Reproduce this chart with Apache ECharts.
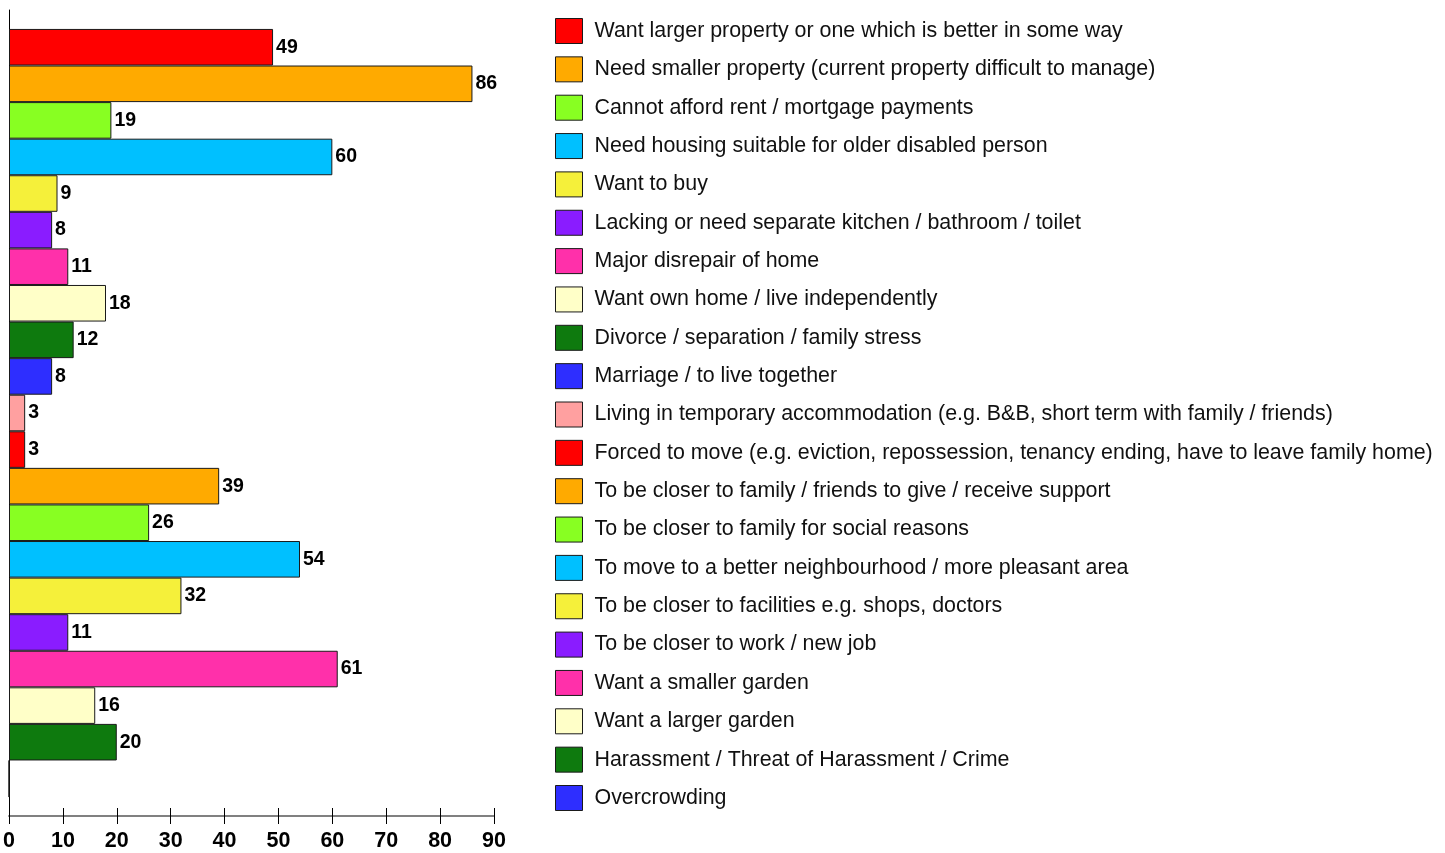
<!DOCTYPE html>
<html>
<head>
<meta charset="utf-8">
<title>Reasons for moving</title>
<script src="https://cdn.jsdelivr.net/npm/echarts@6/dist/echarts.min.js"></script>
<style>
  html, body { margin: 0; padding: 0; background: #ffffff; }
  #chart { width: 1445px; height: 853px; }
</style>
</head>
<body>
<div id="chart"></div>
<script>
// Reasons given for wanting to move (number of households)
const reasons = [
  'Want larger property or one which is better in some way',
  'Need smaller property (current property difficult to manage)',
  'Cannot afford rent / mortgage payments',
  'Need housing suitable for older disabled person',
  'Want to buy',
  'Lacking or need separate kitchen / bathroom / toilet',
  'Major disrepair of home',
  'Want own home / live independently',
  'Divorce / separation / family stress',
  'Marriage / to live together',
  'Living in temporary accommodation (e.g. B&B, short term with family / friends)',
  'Forced to move (e.g. eviction, repossession, tenancy ending, have to leave family home)',
  'To be closer to family / friends to give / receive support',
  'To be closer to family for social reasons',
  'To move to a better neighbourhood / more pleasant area',
  'To be closer to facilities e.g. shops, doctors',
  'To be closer to work / new job',
  'Want a smaller garden',
  'Want a larger garden',
  'Harassment / Threat of Harassment / Crime',
  'Overcrowding'
];

const counts = [49, 86, 19, 60, 9, 8, 11, 18, 12, 8, 3, 3, 39, 26, 54, 32, 11, 61, 16, 20, 0];

const xTicks = [0, 10, 20, 30, 40, 50, 60, 70, 80, 90];

const palette = [
  '#FF0000', '#FFAA00', '#88FF22', '#00C0FF', '#F5F03A', '#8A1CFF', '#FF30AA',
  '#FFFFC8', '#0E7A0E', '#2E2EFF', '#FFA0A0', '#FF0000', '#FFAA00', '#88FF22',
  '#00C0FF', '#F5F03A', '#8A1CFF', '#FF30AA', '#FFFFC8', '#0E7A0E', '#2E2EFF'
];

const font = '"Liberation Sans", Arial, sans-serif';

const series = reasons.map((name, i) => ({
  name: name,
  type: 'bar',
  xAxisIndex: 0,
  barGap: '0%',
  barCategoryGap: '4.7%',
  data: [counts[i]],
  itemStyle: {
    color: palette[i],
    borderColor: '#1a1a1a',
    borderWidth: 1
  },
  label: {
    show: true,
    position: 'right',
    distance: 3,
    color: '#000',
    fontFamily: font,
    fontWeight: 'bold',
    fontSize: 19.5,
    formatter: p => (p.value === 0 ? '' : String(p.value))
  },
  emphasis: { disabled: true }
}));

const chart = echarts.init(document.getElementById('chart'), null, { renderer: 'canvas' });

chart.setOption({
  animation: false,
  backgroundColor: '#ffffff',
  color: palette,
  grid: { left: 9, right: 951, top: 10, bottom: 37, containLabel: false },
  legend: {
    orient: 'vertical',
    left: 550,
    top: 13,
    itemWidth: 27,
    itemHeight: 25,
    itemGap: 12.35,
    icon: 'rect',
    selectedMode: false,
    data: reasons,
    itemStyle: { borderColor: '#1a1a1a', borderWidth: 1 },
    textStyle: {
      fontFamily: font,
      fontSize: 21.4,
      color: '#111',
      padding: [0, 0, 0, 7]
    }
  },
  xAxis: [
    {
      type: 'value',
      position: 'bottom',
      min: xTicks[0],
      max: xTicks[xTicks.length - 1],
      interval: 10,
      axisLine: { show: true, lineStyle: { color: '#808080', width: 2 } },
      axisTick: { show: true, length: 8, lineStyle: { color: '#000', width: 1 } },
      splitLine: { show: false },
      axisLabel: {
        margin: 14,
        color: '#000',
        fontFamily: font,
        fontWeight: 'bold',
        fontSize: 21.5,
        formatter: v => (xTicks.includes(v) ? String(v) : '')
      }
    },
    {
      type: 'value',
      position: 'bottom',
      min: xTicks[0],
      max: xTicks[xTicks.length - 1],
      interval: 10,
      axisLine: { show: false },
      axisTick: { show: true, inside: true, length: 8, lineStyle: { color: '#000', width: 1 } },
      splitLine: { show: false },
      axisLabel: { show: false }
    }
  ],
  yAxis: {
    type: 'category',
    inverse: true,
    data: [''],
    axisLine: { show: true, lineStyle: { color: '#000', width: 1 } },
    axisTick: { show: false },
    axisLabel: { show: false },
    splitLine: { show: false }
  },
  series: series
});
</script>
</body>
</html>
